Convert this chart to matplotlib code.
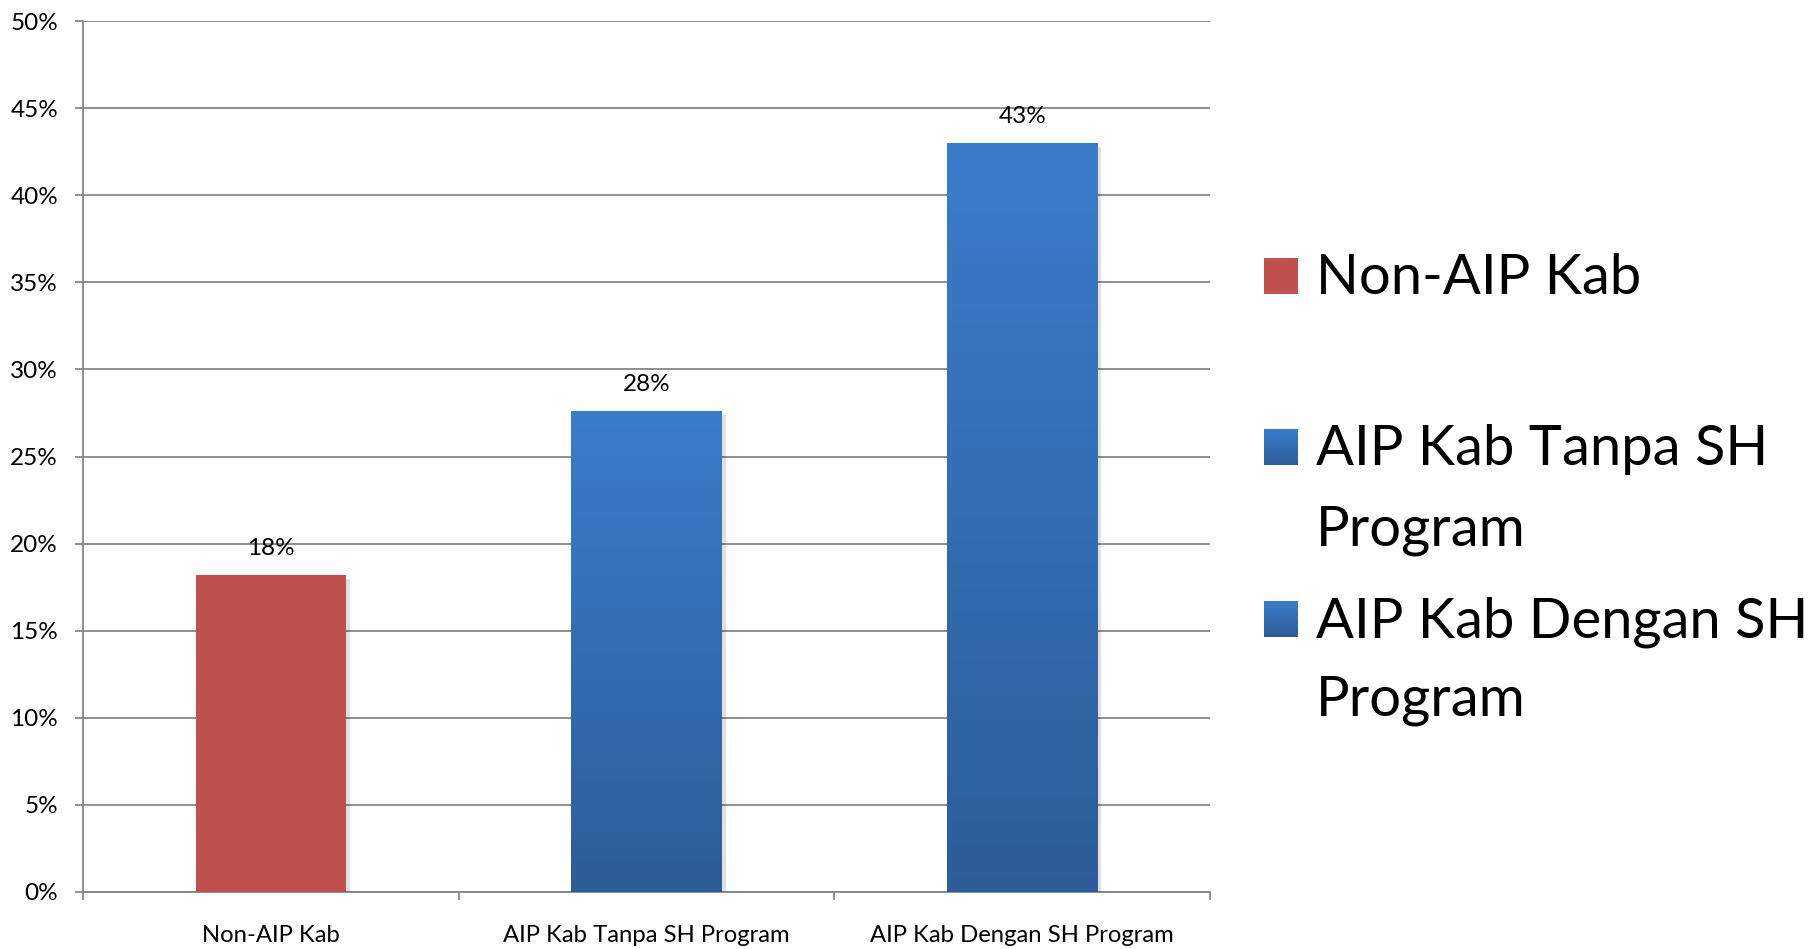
import numpy as np
import matplotlib
matplotlib.use("Agg")
from matplotlib import pyplot as plt
from matplotlib.colors import LinearSegmentedColormap
import matplotlib.patheffects as pe

plt.rcParams['font.family'] = ['Lato', 'DejaVu Sans']

# data
categories = ["Non-AIP Kab", "AIP Kab Tanpa SH Program", "AIP Kab Dengan SH Program"]
values = [0.182, 0.276, 0.430]
value_labels = ["18%", "28%", "43%"]
legend_lines = [["Non-AIP Kab"], ["AIP Kab Tanpa SH", "Program"], ["AIP Kab Dengan SH", "Program"]]
yticks = [0, 0.05, 0.10, 0.15, 0.20, 0.25, 0.30, 0.35, 0.40, 0.45, 0.50]

red = "#C0504D"
blue_top = "#3A7DCB"
blue_bottom = "#2D5D99"
blue_cmap = LinearSegmentedColormap.from_list("bl", [blue_bottom, blue_top])
grid_col = "#868686"

fig = plt.figure(figsize=(18.12, 9.49), dpi=100)
ax = fig.add_axes([83 / 1812, 1 - 892 / 949, (1210 - 83) / 1812, (892 - 21) / 949])

x = np.arange(len(categories))
bars = ax.bar(x, values, width=0.4, color=[red, blue_top, blue_top], zorder=3,
              path_effects=[pe.SimplePatchShadow(offset=(3, -3), shadow_rgbFace="k", alpha=0.12), pe.Normal()])

# vertical gradient on the blue bars
grad = np.linspace(0, 1, 256).reshape(-1, 1)
for b in bars[1:]:
    im = ax.imshow(grad, extent=[b.get_x(), b.get_x() + b.get_width(), 0, b.get_height()],
                   origin="lower", aspect="auto", cmap=blue_cmap, zorder=4)
    im.set_clip_path(b)

for xi, v, lab in zip(x, values, value_labels):
    ax.annotate(lab, (xi, v), xytext=(0, 19), textcoords="offset points",
                ha="center", va="center", fontsize=17.5)

ax.set_xlim(-0.5, len(categories) - 0.5)
ax.set_ylim(0, 0.5)
ax.set_yticks(yticks)
ax.set_yticklabels([f"{int(round(t * 100))}%" for t in yticks])
ax.set_xticks(x)
ax.set_xticklabels(categories)
ax.set_xticks(np.arange(len(categories) + 1) - 0.5, minor=True)

ax.yaxis.grid(True, color=grid_col, linewidth=1.3, zorder=0)
ax.set_axisbelow(True)
for s in ["top", "right"]:
    ax.spines[s].set_visible(False)
for s in ["left", "bottom"]:
    ax.spines[s].set_color(grid_col)
    ax.spines[s].set_linewidth(1.3)

ax.tick_params(axis="y", length=6, width=1.3, color=grid_col, pad=12, labelsize=17.5)
ax.tick_params(axis="x", which="major", length=0, pad=24, labelsize=17.2)
ax.tick_params(axis="x", which="minor", length=6, width=1.3, color=grid_col)

# legend drawn on the right side
W, H = 1812, 949
sq_left, sq_w = 1264, 34
baselines = [[294], [465, 545], [637, 715]]
colors = [None, "blue", "blue"]
for lines, bls, c in zip(legend_lines, baselines, colors):
    sq = fig.add_axes([sq_left / W, 1 - bls[0] / H, sq_w / W, 36 / H])
    if c is None:
        sq.set_facecolor(red)
    else:
        sq.imshow(grad, origin="lower", aspect="auto", cmap=blue_cmap, extent=[0, 1, 0, 1])
    sq.set_xticks([])
    sq.set_yticks([])
    for s in sq.spines.values():
        s.set_visible(False)
    for line, bl in zip(lines, bls):
        fig.text(1316 / W, 1 - bl / H, line, fontsize=40.4, ha="left", va="baseline")

fig.savefig("out.png", dpi=100, facecolor="white")
